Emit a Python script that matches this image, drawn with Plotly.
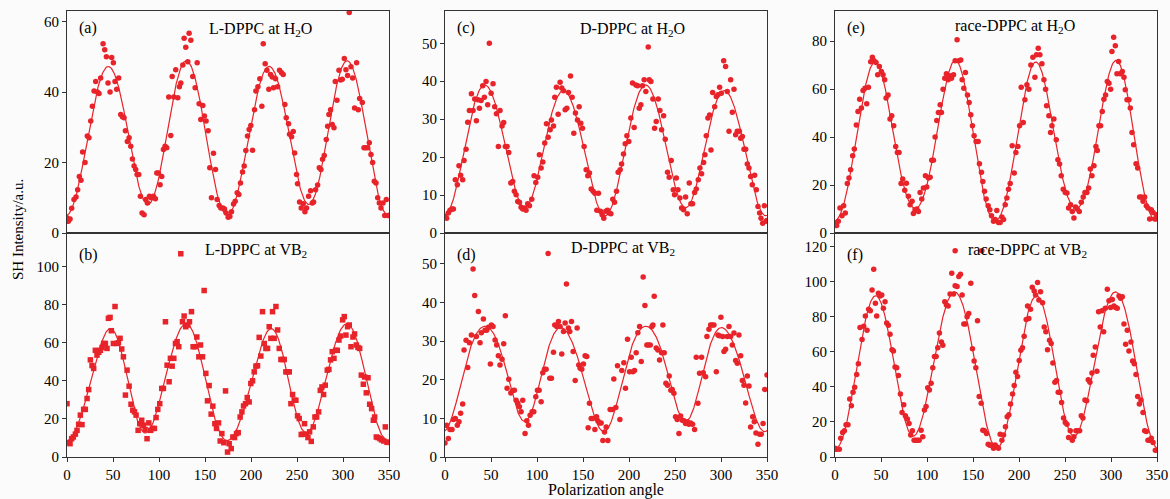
import numpy as np
import plotly.graph_objects as go

# ---------------- data ----------------
ANGLE_A = [0,1.5,3.3,5.1,7.6,9.8,11.6,13.4,15.2,17.0,19.6,22.1,23.9,25.8,27.6,29.4,31.2,33.0,34.8,36.6,
           39.2,41.0,42.8,44.6,46.8,48.6,50.4,52.2,54.0,56.2,58.4,60.2,62.0,63.5,65.6,67.5,69.3,71.1,72.9,74.7,
           76.2,78.0,79.8,81.6,83.8,85.6,87.4,89.6,91.4,93.9,96.1,97.6,99.4,101.2,103.0,104.8,106.6,108.4,110.6,112.8,
           114.3,116.1,118.2,120.4,122.2,123.7,125.9,127.3,129.1,131.3,132.7,134.6,136.7,139.3,141.5,143.6,145.4,147.6,149.4,151.2,
           153.4,155.2,157.0,159.2,161.4,163.2,165.4,167.2,169.4,171.2,173.0,175.2,177.0,178.8,181.0,182.8,185.0,186.8,188.6,190.8,
           192.6,194.4,196.2,198.0,199.8,201.7,203.8,205.3,207.5,209.6,211.8,213.3,215.4,217.3,219.4,221.2,223.1,224.5,226.7,228.9,
           231.0,233.2,235.0,236.8,238.3,240.8,241.9,244.1,245.9,247.4,249.5,250.6,252.8,254.6,256.8,258.6,260.4,262.6,264.8,266.6,
           268.0,270.2,272.4,274.2,276.0,277.8,279.6,281.8,283.3,284.7,286.5,288.3,290.2,291.6,293.4,295.6,297.4,299.2,301.4,303.2,
           305.0,306.8,308.7,310.5,312.6,314.8,316.6,318.1,321.0,322.8,324.6,326.8,328.6,330.4,332.2,334.0,335.9,337.7,339.5,341.3,
           343.5,345.3,347.1,348.9,350.0]
SH_A = [4.3,3.3,4,7,9.5,10.2,12.3,16,15,23,20,27.5,27,31.8,36,40.3,43,40,39.6,44,
        53.7,52,50,42.6,40,49.8,48.3,43,40.8,44,33.6,33,32.7,29,26,27,24.6,21,19,18,
        16.6,16.6,10.4,5.7,5.2,9.5,8.5,10.4,10,10.4,9.7,17,17,13.7,16,23.7,24.6,24.2,38.6,27.7,
        44.4,38.6,46.3,38.4,41.5,42.6,47.7,55.3,52.7,48.6,56.7,54.7,44.4,41.2,48.3,36.7,32.2,36.2,33.2,31.8,
        29,18.5,10,22.6,18,9.5,7.8,7.1,7.1,6.8,5.7,4.5,4.7,6,8.2,9,11.4,10.9,14.2,17.3,
        19,23.4,27.5,29.4,30.5,23.5,35,40.3,41.5,43.8,36,53.7,48,46.2,40.8,45,44.3,41.2,43.8,41.5,
        46.2,45.5,45,36.5,32.7,31,28,27.3,28.8,22.7,16.6,14,8.8,7.1,8.3,6,7.1,10.4,12,8.5,
        8.8,12.3,13.6,18.5,18,20.9,22,26.5,30.3,33.6,35,30.8,29.9,43,37.7,46.2,43.4,43.6,49.5,46.3,
        44.7,62.6,47.2,44,35.5,48.3,35,38.2,37,24.2,24.2,24.2,25.6,22.3,20,14.7,14.2,10,8.5,7.1,
        8.5,5,9.5,5,5]

ANGLE_B = [0,1.5,3.3,5.1,6.9,9.1,10.9,12.7,14.5,16.3,18.1,19.9,21.8,23.6,25.4,27.2,29.0,30.8,32.6,34.5,
           36.3,38.1,39.9,41.7,43.5,45.0,46.8,48.2,50.4,52.2,54.4,55.9,57.7,59.5,61.3,63.5,65.3,67.5,69.6,71.5,
           73.3,75.1,77.3,79.1,81.2,83.1,84.9,87.0,88.9,91.0,92.9,95.0,96.8,98.7,100.8,103.0,104.8,107.0,108.8,111.0,
           112.4,114.3,116.1,117.9,119.7,121.5,123.7,125.5,127.3,129.1,131.3,133.1,135.3,137.1,139.3,141.1,143.3,145.1,147.3,149.1,
           150.9,152.7,154.5,156.7,158.5,160.7,162.5,164.7,166.5,168.3,170.5,172.3,174.5,176.3,178.5,180.3,182.1,184.3,186.1,188.2,
           190.1,191.9,194.0,195.9,198.0,199.8,201.7,203.5,205.3,207.1,208.9,210.7,212.5,214.4,216.2,218.0,219.8,221.6,223.4,225.2,
           227.1,228.9,230.7,232.5,234.3,236.1,237.9,239.7,241.6,243.4,245.2,247.0,248.8,250.6,252.4,254.6,256.4,258.2,260.1,261.9,
           263.7,265.5,267.7,269.5,271.3,273.5,275.3,277.1,278.9,280.7,282.9,284.7,286.5,288.3,290.2,292.0,293.8,295.6,297.4,299.6,
           301.4,303.2,305.0,306.8,308.7,310.8,312.6,314.5,316.3,318.1,319.9,322.1,323.5,325.3,327.2,329.0,331.1,333.0,334.4,336.2,
           338.0,340.2,342.0,344.2,346.0,347.8,350.0]
SH_B = [28,7.5,7,9.6,10.5,12,14,17.2,22,17,25,25,30.7,35.4,51,48,46.5,56,53.5,55,
        56,57.5,59.6,59.6,57,72.8,73.3,66.3,59.6,79,59.6,60,62.3,56.7,52.6,32.5,45.6,37.2,27.7,24.6,
        23.7,22,14,17.5,19.3,16.7,14.4,9.6,17.9,14,15,15,20.7,25,28,36,36,71,48.2,39.5,
        51.8,47.7,51.8,59.6,60.5,57.9,106.7,71,74,68.4,69.3,71,76.3,57.9,57.9,63,52.6,58.8,52.6,87.4,
        43.9,29.5,37.5,22.5,26.7,17.5,15,17.9,8.4,12.3,7.5,34.7,2.6,7,4.4,10.5,10.2,12.3,12.8,21,
        23.7,26.8,28,31.2,28.9,38.6,40,44.7,47.7,47.9,62.8,53,76.3,59.6,57,57,68.4,62.3,76.3,62.3,
        79,66.7,57,51.2,51.2,51.2,44.7,44.7,44.7,28,32.8,29.8,29.8,21.6,20.2,11.8,12,17.5,12,10.2,
        13.2,8.2,15.8,21,21,23.7,35,36.8,32.8,37.7,45.6,46,51,55.3,51.8,56,56,61.4,63.5,72,
        73.7,64,68.4,69.3,57.9,63,64.6,58.8,57.5,57,43,38.2,42,33.7,41.6,27.7,25.4,19.3,21,10.5,
        10.2,9.6,9,8.4,15.8,7.7,7.7]

ANGLE_C = [0,1.8,3.6,5.4,7.6,9.1,11.2,13.4,15.2,17.0,19.2,20.7,22.9,24.7,26.5,28.7,30.5,32.3,34.1,35.9,
           37.4,39.2,41.0,42.8,44.6,46.4,48.2,50.1,52.2,54.0,55.9,58.0,59.8,62.0,63.8,65.6,67.5,69.3,71.5,73.6,
           75.4,77.3,79.1,80.9,82.7,84.5,86.3,88.1,89.9,91.8,94.3,96.8,98.7,100.8,102.6,104.5,106.3,108.4,110.3,112.1,
           114.3,115.7,117.9,119.3,121.1,123.0,125.1,126.9,128.8,130.6,132.4,134.2,136.4,138.2,140.0,141.8,144.0,145.8,147.6,149.4,
           151.2,153.4,155.2,157.0,158.9,161.0,162.9,165.0,166.8,169.0,170.8,172.6,174.8,176.6,178.5,180.3,182.4,184.3,186.4,188.2,
           190.4,191.9,194.0,195.9,197.7,199.8,202.0,203.8,205.6,207.5,209.3,211.1,212.9,214.7,216.5,218.3,220.9,222.0,223.8,226.0,
           227.8,229.6,231.8,233.6,235.4,237.6,239.4,241.9,243.7,245.9,248.1,249.5,251.4,253.2,255.3,257.2,259.3,261.5,263.3,265.5,
           267.3,269.1,271.3,273.1,275.3,277.1,278.9,281.1,282.5,284.0,285.8,287.6,289.1,290.9,293.1,294.9,296.7,298.5,300.3,302.9,
           305.0,306.8,308.7,310.5,312.3,314.1,315.9,317.7,319.9,321.4,323.2,325.0,326.8,328.6,330.4,332.2,334.0,336.6,338.4,340.2,
           342.0,343.5,345.3,347.1,348.9,350.0]
SH_C = [4.4,3.9,5.3,6,6.3,6.3,14,12.7,17.7,15.2,14,19.1,22.1,29.2,32.3,36.7,32.3,35.3,29.6,35.1,
        32.9,34.9,38.8,35.8,39.9,33.8,50,36.8,39.3,33.3,31.4,22.8,32.3,28.2,29.1,22.8,22.8,21.2,13.2,13.6,
        11,10.1,8.3,8.1,6.8,6.3,6.6,6,7.7,7.2,8.9,15.1,13.3,14.7,20.6,17.1,18.7,23.7,28.8,25.2,
        27.2,29.8,28.2,35.8,38.4,31.3,39.7,38.2,37.5,32.5,32.9,37,41.4,35.8,26.3,31.6,29.8,33.3,28.9,27.6,
        22.8,16.7,15.1,15.8,11.6,11,10.5,6,10.5,5.7,4.8,3.9,5.7,6,5.3,5.1,8.9,8.1,11,16,
        16.7,18.2,20.8,23.5,25.6,24.1,30.3,39.5,27.8,39,38.8,32.9,33.8,38.8,40.4,37.3,49,40.4,39.9,35.3,
        27.6,29.4,35.3,32.3,27.2,30.9,24.7,16,14.7,19.1,11.4,10.1,14.5,11.4,9.2,6.6,6.1,9.5,5.1,13.2,
        7.7,7.7,10.7,11.6,14,17.1,15.6,18.6,20.6,25.6,30.3,31.1,21.9,37,33.3,36,36.4,38.4,36.8,45.4,
        43.9,37.3,26.8,40.4,31.8,37.9,25.9,26.8,26.8,25,25.4,22.1,22.1,18.2,17.1,14.9,12.7,15.2,11.4,7,
        5.3,3.9,2.6,7.2,3.1,3.3]

ANGLE_D = [0,1.8,3.6,5.4,7.6,9.1,11.2,13.4,15.2,17.0,19.2,20.7,22.9,24.7,26.5,28.7,30.5,32.3,34.1,36.3,
           38.1,39.5,41.7,43.5,45.3,47.2,49.3,50.4,52.2,54.4,56.2,58.0,59.8,62.0,63.8,65.6,67.5,69.3,71.5,73.6,
           75.4,77.3,79.1,80.9,82.7,84.5,87.0,88.9,90.7,92.5,94.7,96.5,98.7,100.5,102.3,104.5,106.3,108.1,109.9,112.1,
           113.9,115.7,117.9,119.3,121.5,123.3,125.1,126.9,128.8,130.6,132.0,134.2,135.6,137.5,139.3,141.5,143.6,145.4,146.9,148.7,
           150.5,152.3,154.1,155.6,157.0,158.9,160.7,162.9,164.7,166.1,167.9,169.7,171.6,173.4,175.2,177.0,179.5,181.7,183.5,185.7,
           187.5,190.1,192.2,194.4,196.2,198.4,200.6,202.4,204.2,206.0,207.8,209.6,211.5,213.3,215.4,217.3,219.4,221.2,223.1,224.9,
           226.0,227.4,229.6,231.4,233.2,235.4,236.8,238.3,240.1,241.9,243.7,245.5,247.0,248.8,250.6,252.4,254.3,256.1,257.9,259.7,
           261.5,263.3,265.1,266.9,269.1,271.3,273.1,274.9,276.7,278.9,280.7,283.3,284.7,286.9,288.7,290.5,292.3,294.9,296.7,298.1,
           299.9,301.8,303.2,305.0,306.8,308.7,310.5,312.3,314.1,315.9,317.7,319.5,321.4,323.2,325.0,326.8,328.6,330.4,332.2,334.4,
           336.2,338.0,340.2,342.0,343.8,345.7,347.5,350.0]
SH_D = [3.6,8.2,4.8,7.1,7.1,9.7,10,8.2,9.1,11.3,13.7,27.7,30.2,23.2,29.6,31.6,48.7,41.8,31.2,37.7,
        29.6,32.2,35.7,32.8,32.8,33.6,24.1,34.2,33.8,30.3,29,26.2,23.8,25.3,29.3,36.6,17.8,20.1,16.6,17.2,
        17.3,14.7,13.9,13,11.7,14.7,6.1,9.4,8.2,10.8,11.7,11.7,15.6,17.3,17.3,14.3,21.8,22.7,22.7,52.7,
        20.4,20.4,27.1,34.2,33.8,35.1,33.8,26.7,32.5,34.7,44.8,33.4,32.5,35.1,27.3,19.8,33.4,23.8,23,22.7,
        24.1,26.2,26,7.6,13.9,10,10,7.1,10.4,9.4,8.8,8.8,4.3,6.5,7.8,4.3,12.3,12.3,20.2,12.8,
        23.6,9.7,22.4,24.4,17.8,30.5,22.1,25.8,22.1,22.4,27,32.2,33.8,24.7,46.6,39.2,29,29,29,33.8,
        34.2,41.6,28.2,27.7,25.1,27,34.2,27,19.1,18.6,21,17.3,17.5,16.5,10.4,9.7,6.1,10.6,9.5,9.4,
        8.7,9.1,8.5,8.8,8.5,7.1,25.8,13.9,21.7,25.8,21.8,20.8,31.2,33.1,34.2,34.2,34.2,22.1,31.6,31.4,
        36.2,31.2,27.3,27.9,31.2,33.8,31.2,29,32.1,25,24.3,31.6,26.2,19.8,18.6,14,21,18.4,7.8,10.4,
        9.1,6.2,3.3,5.9,5.9,8.7,17.5,21.2]

ANGLE_E = [0,1.8,3.6,5.4,7.6,9.4,11.2,13.4,15.2,17.0,19.2,21.0,23.2,25.0,26.8,28.7,30.5,32.6,34.5,36.3,
           38.8,40.6,42.4,44.6,46.4,48.2,50.4,52.2,54.0,55.5,57.7,59.8,61.7,63.8,66.0,67.8,69.6,71.8,73.6,75.8,
           77.6,79.8,81.6,83.8,85.2,87.0,88.9,90.7,92.5,94.3,96.1,98.3,99.7,101.6,103.4,105.2,107.0,108.8,110.6,112.4,
           114.3,115.7,117.5,119.3,121.1,123.0,124.8,126.6,128.8,130.6,132.7,134.6,136.7,138.2,140.0,141.8,144.0,145.8,147.6,149.4,
           151.2,153.4,155.6,157.0,159.2,160.7,162.5,164.3,166.5,168.3,170.1,172.3,174.1,175.9,177.7,179.5,181.4,183.2,185.0,186.8,
           188.6,190.4,192.6,194.8,196.6,198.8,200.6,202.4,204.6,206.4,208.6,210.7,212.9,215.1,217.3,219.1,220.9,222.7,224.9,227.1,
           228.9,230.0,232.5,234.3,235.8,237.9,240.5,242.3,244.1,245.9,248.1,250.3,252.1,253.9,256.1,257.9,259.7,261.5,263.3,265.5,
           267.7,269.8,271.7,273.8,275.7,277.5,279.3,281.5,283.6,285.1,286.9,288.7,290.5,292.3,294.1,296.0,297.8,299.6,301.0,302.9,
           304.7,306.5,308.3,310.1,312.3,314.1,315.5,317.4,319.5,321.0,322.8,324.6,327.2,329.0,331.1,333.0,334.8,336.6,338.4,340.2,
           342.0,343.8,345.7,347.5,349.3]
SH_E = [3.9,3.1,4.9,10.4,7.2,11.4,8.3,20.6,22.9,26.4,32.2,35,45.1,50.7,55.8,52.1,59.4,60.4,53.9,60.8,
        71.4,73.3,71.9,71.1,66,69.4,67.4,66,63.9,56.3,57.6,47.5,48.9,44.7,36.1,33.6,33.6,20.6,22.5,17.8,
        20.8,15.3,11.8,13.2,8.1,9.7,10,9,16.9,14.2,18.8,23.9,19.2,22.9,23.3,30.3,30.3,40,46.9,50.3,
        53.5,50.3,60,64.6,66.4,63.9,65.6,64.6,66,71.9,80.6,71.8,72.2,63.9,60.4,66.9,57.6,54.4,49.3,44.7,
        40.6,38.2,38.2,28.9,25.3,21.5,17.4,14.2,11.4,9.7,7.2,4.9,5.6,9.4,4.4,4.4,6.7,5.6,11.8,14.6,
        18.3,20.6,36.4,25,33.6,36.1,44.7,60.8,46.1,55.6,61.8,60,70.1,73.3,65,74.3,77.1,74.3,70.6,63.9,
        60,53.1,48.9,41.9,44.7,47.5,38.9,30.6,28.8,23.9,18.3,16.9,16.7,10.4,11.8,9,6.3,10.8,10,9,
        12.8,15,16.9,16.9,18.8,26.7,23.9,28.1,36.1,34.4,44.7,44.7,50.7,55.8,57.6,63.2,62.5,60,75.7,81.7,
        78.1,66.4,71.5,66.4,67.4,65,59.7,55.6,55.6,52.1,41.9,36.8,28.9,27.1,15,15,13.2,15,11.4,10.4,
        5.8,9.7,8.6,5.8,7.6]

ANGLE_F = [0,1.8,4.7,6.2,8.3,10.2,12.0,14.1,16.0,17.8,19.6,21.4,23.6,25.4,27.2,29.4,31.2,33.0,34.8,36.6,
           38.4,40.3,42.1,43.9,45.3,47.2,49.0,50.8,52.6,54.4,56.2,58.0,59.8,62.0,63.5,65.3,67.1,68.9,71.1,72.9,
           74.7,76.5,78.7,80.5,82.3,84.1,86.0,87.8,89.6,91.4,93.6,95.4,97.2,99.0,100.8,102.6,104.5,106.3,108.1,109.9,
           111.7,113.5,115.7,117.2,119.3,121.1,123.0,125.1,126.9,128.8,130.6,132.7,134.6,136.4,138.2,140.0,141.8,143.6,145.4,147.6,
           149.4,151.2,153.1,154.9,156.7,158.9,160.7,162.5,164.7,166.5,168.3,170.1,172.3,174.1,175.9,177.7,179.5,181.4,183.2,185.3,
           187.2,189.0,190.8,193.0,194.8,196.6,198.4,200.2,202.0,203.8,205.6,207.8,209.3,210.7,212.5,214.4,216.5,218.0,220.2,221.6,
           223.4,225.6,227.4,229.2,231.0,233.2,235.0,236.8,239.0,240.8,242.6,244.5,246.3,248.4,250.3,252.1,253.9,255.7,257.9,259.7,
           261.9,263.7,265.9,267.7,269.5,271.7,273.5,275.3,277.1,279.3,280.7,282.9,284.7,286.5,288.3,290.2,292.0,293.8,296.0,297.8,
           299.6,301.4,303.2,305.0,306.8,308.7,310.5,312.3,314.1,315.9,317.7,319.5,321.7,323.5,325.3,327.2,329.0,330.8,332.6,334.8,
           336.6,338.4,340.2,342.0,343.8,345.7,348.2,130.6,159.6]
SH_F = [5,4.4,4.4,10.7,14,14.9,18.3,18.3,33,29.2,36.9,39.7,47,53.1,73.8,66.9,74.5,80.3,72.2,84.1,
        83.3,95.2,107,87.6,80.3,93.3,91.7,92.3,84.7,88.5,76.4,75.1,69.9,61.1,60.4,51.2,50.8,46.4,35.9,25.4,
        29.8,23.5,21.6,19.1,12.6,14.9,9.6,9.6,9.6,9.6,15.3,11.5,26.8,28.7,39.4,38.2,42,50.8,57.3,57.3,
        62.3,70.7,65.5,63.6,88.5,86.6,86,92.9,104.7,92.9,97.5,97.1,102.8,104.1,92.3,75.7,75.7,79.9,81.8,99,
        61.7,54.7,50.8,77.6,34.4,30.6,15.3,14.9,13.4,7.3,6.7,6.9,5,6.9,5.7,5,13,9.6,12.6,17.2,
        22.9,24.1,30.2,35.9,40.7,48.3,45.9,55,60.8,62.3,68.8,78.3,86,78.9,84.1,96.7,94.6,92.3,99.4,89.4,
        94.2,87.9,74.1,71.3,61.1,66.5,64.6,53.5,42.6,43.6,36.9,36.9,31.1,22.2,19.7,18.7,11.1,14.9,9.6,11.5,
        14.9,14.9,14.9,23.5,22.2,32.5,32.1,44,42.6,47.8,57.9,62.7,48.9,82.7,74.1,83.3,71.3,84.7,95.5,89,
        85.2,89.7,86,85.2,84.7,91.7,90.4,91.3,75.7,64.2,72.2,60.4,65.5,54.7,53.1,47,34.4,30.2,32.5,25.4,
        14.9,14.5,9.6,9.6,10.7,8.2,3.8,117.5,117.5]

PANEL_LABELS = ["(a)", "(b)", "(c)", "(d)", "(e)", "(f)"]
PANEL_TITLES = ["L-DPPC at H<sub>2</sub>O", "L-DPPC at VB<sub>2</sub>",
                "D-DPPC at H<sub>2</sub>O", "D-DPPC at VB<sub>2</sub>",
                "race-DPPC at H<sub>2</sub>O", "race-DPPC at VB<sub>2</sub>"]
Y_MAX = [63, 117.6, 58.5, 58, 92.6, 127.6]
Y_DTICK = [20, 20, 10, 10, 20, 20]
X_TICKS = [0, 50, 100, 150, 200, 250, 300, 350]
PEAK_PERIOD = 87.4   # spacing of the intensity maxima (deg)

ANGLES = [ANGLE_A, ANGLE_B, ANGLE_C, ANGLE_D, ANGLE_E, ANGLE_F]
VALUES = [SH_A, SH_B, SH_C, SH_D, SH_E, SH_F]

# ---------------- styling ----------------
RED = "#e8232a"
FONT = "Liberation Serif"
W, H = 1170, 499
COL_X = [(67, 389), (445, 767), (835, 1157)]
ROW_Y = [(11, 233), (233, 457)]   # top row, bottom row (pixel from top)


def fit_curve(ang, val):
    """Least-squares harmonic fit (as the reference fitted curve)."""
    a = np.asarray(ang, float)
    v = np.asarray(val, float)
    w = 2 * np.pi / (2 * PEAK_PERIOD)

    def design(t):
        cols = [np.ones_like(t)]
        for k in range(1, 5):
            cols += [np.cos(k * w * t), np.sin(k * w * t)]
        return np.column_stack(cols)

    coef, *_ = np.linalg.lstsq(design(a), v, rcond=None)
    t = np.linspace(0, 350, 701)
    return t, design(t) @ coef


fig = go.Figure()
layout = dict(width=W, height=H, margin=dict(l=0, r=0, t=0, b=0, pad=0, autoexpand=False),
              paper_bgcolor="#fbfbfb", plot_bgcolor="#fbfbfb", showlegend=False,
              font=dict(family=FONT, size=15, color="black"))
annotations = []

for i in range(6):
    col, row = i // 2, i % 2
    n = i + 1
    xs = "" if n == 1 else str(n)
    x0, x1 = COL_X[col]
    ytop, ybot = ROW_Y[row]
    xdom = [x0 / W, x1 / W]
    ydom = [1 - ybot / H, 1 - ytop / H]
    bottom = row == 1
    layout["xaxis" + xs] = dict(domain=xdom, anchor="y" + xs, range=[0, 350],
                                tickvals=X_TICKS, showticklabels=bottom,
                                ticks="outside" if bottom else "", ticklen=4,
                                tickcolor="#333", showline=True, mirror=True,
                                linecolor="#333", linewidth=1, showgrid=False,
                                zeroline=False, automargin=False,
                                tickfont=dict(family=FONT, size=15, color="black"))
    layout["yaxis" + xs] = dict(domain=ydom, anchor="x" + xs, range=[0, Y_MAX[i]],
                                dtick=Y_DTICK[i], tick0=0, ticks="outside", ticklen=4,
                                tickcolor="#333", showline=True, mirror=True,
                                linecolor="#333", linewidth=1, showgrid=False,
                                zeroline=False, automargin=False,
                                tickfont=dict(family=FONT, size=15, color="black"))
    t, yfit = fit_curve(ANGLES[i], VALUES[i])
    fig.add_trace(go.Scatter(x=ANGLES[i], y=VALUES[i], mode="markers",
                             marker=dict(color=RED, size=5.5,
                                         symbol="square" if i == 1 else "circle"),
                             xaxis="x" + xs, yaxis="y" + xs, cliponaxis=True))
    fig.add_trace(go.Scatter(x=t, y=yfit, mode="lines",
                             line=dict(color=RED, width=1.2),
                             xaxis="x" + xs, yaxis="y" + xs))
    # panel label
    ylab = 28 if row == 0 else 255
    annotations.append(dict(text=PANEL_LABELS[i], x=(x0 + 10) / W, y=1 - ylab / H,
                            xref="paper", yref="paper", xanchor="left", yanchor="middle",
                            showarrow=False, font=dict(family=FONT, size=16)))

TITLE_POS = [(260, 30), (255.5, 251), (632, 30), (622.5, 249), (1015, 27), (1027.5, 251)]
for i, (px, py) in enumerate(TITLE_POS):
    annotations.append(dict(text=PANEL_TITLES[i], x=px / W, y=1 - py / H,
                            xref="paper", yref="paper", xanchor="center", yanchor="middle",
                            showarrow=False, font=dict(family=FONT, size=16)))

annotations.append(dict(text="SH Intensity/a.u.", x=18 / W, y=1 - 230 / H, xref="paper",
                        yref="paper", textangle=-90, showarrow=False,
                        xanchor="center", yanchor="middle", font=dict(family=FONT, size=15)))
annotations.append(dict(text="Polarization angle", x=606 / W, y=1 - 490 / H, xref="paper",
                        yref="paper", showarrow=False, xanchor="center", yanchor="middle",
                        font=dict(family=FONT, size=16)))
layout["annotations"] = annotations
fig.update_layout(**layout)
fig.write_html("out.html",
               config={"displayModeBar": False},
               post_script="document.body.style.margin='0px';"
                           "document.body.style.padding='0px';"
                           "document.body.style.overflow='hidden';")
